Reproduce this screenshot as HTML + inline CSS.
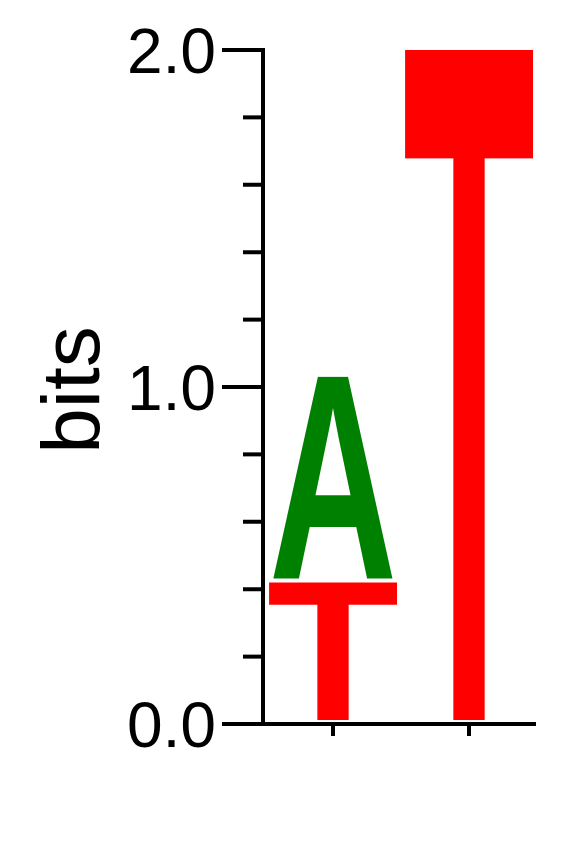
<!DOCTYPE html>
<html><head><meta charset="utf-8">
<style>
html,body{margin:0;padding:0;background:#fff;width:583px;height:842px;overflow:hidden;}
svg{display:block;overflow:hidden;}
</style></head>
<body>
<svg id="chart" width="583" height="842" viewBox="0 0 583 842" xmlns="http://www.w3.org/2000/svg">
<g id="axes"></g>
<g id="marks"></g>
<text x="0" y="0" transform="translate(99,390) rotate(-90)" text-anchor="middle" font-family="Liberation Sans, sans-serif" font-size="82" fill="#000">bits</text>
</svg>
<script>
// data
const positions = [1, 2];
const letters = [["T", "A"], ["T"]];
const heights = [[0.42, 0.61], [2.0]];
const colors = {A: "#008000", T: "#ff0000", C: "#0000ff", G: "#ffa500"};
const yTicks = [0, 0.2, 0.4, 0.6, 0.8, 1.0, 1.2, 1.4, 1.6, 1.8, 2.0];
const yLabels = ["0.0", "1.0", "2.0"];
const yLabelValues = [0, 1, 2];

const NS = "http://www.w3.org/2000/svg";
const y0 = 724, pxPerBit = 337;
const yScale = v => y0 - v * pxPerBit;
const xScale = p => 333 + (p - 1) * 136;
const colW = 126;
const inkW = {T: 58, A: 71, C: 66, G: 70};
const capH = 68.8;

function mk(tag, attrs, parent) {
  const el = document.createElementNS(NS, tag);
  for (const k in attrs) el.setAttribute(k, attrs[k]);
  parent.appendChild(el);
  return el;
}
const axes = document.getElementById("axes");
const marks = document.getElementById("marks");

let yl = mk("line", {x1: 263, y1: yScale(2) - 2, x2: 263, y2: y0 + 2, stroke: "#000", "stroke-width": 4}, axes);


yTicks.forEach(v => {
  const major = yLabelValues.some(m => Math.abs(m - v) < 1e-6);
  const t = mk("line", {x1: major ? 222 : 243, x2: 263, y1: yScale(v), y2: yScale(v), stroke: "#000", "stroke-width": 4}, axes);
  
  
});
yLabelValues.forEach((v, i) => {
  const t = mk("text", {x: 216, y: yScale(v) + 23, "text-anchor": "end", "font-family": "Liberation Sans, sans-serif", "font-size": 64, fill: "#000"}, axes);
  t.textContent = yLabels[i];
  
  
});
let xl = mk("line", {x1: 261, x2: 536, y1: y0, y2: y0, stroke: "#000", "stroke-width": 4}, axes);


positions.forEach(p => {
  const t = mk("line", {x1: xScale(p), x2: xScale(p), y1: y0, y2: y0 + 12, stroke: "#000", "stroke-width": 4}, axes);
  
  
});

positions.forEach((p, i) => {
  let base = 0;
  letters[i].forEach((L, j) => {
    const h = heights[i][j];
    const yb = yScale(base) - 4;
    const hp = h * pxPerBit - 4;
    const sx = colW / inkW[L], sy = hp / capH;
    const t = mk("text", {x: 0, y: 0, transform: `translate(${xScale(p)},${yb}) scale(${sx},${sy})`, "text-anchor": "middle", "font-family": "Liberation Sans, sans-serif", "font-weight": "bold", "font-size": 100, fill: colors[L]}, marks);
    t.textContent = L;
    
    
    base += h;
  });
});
</script>
</body></html>
